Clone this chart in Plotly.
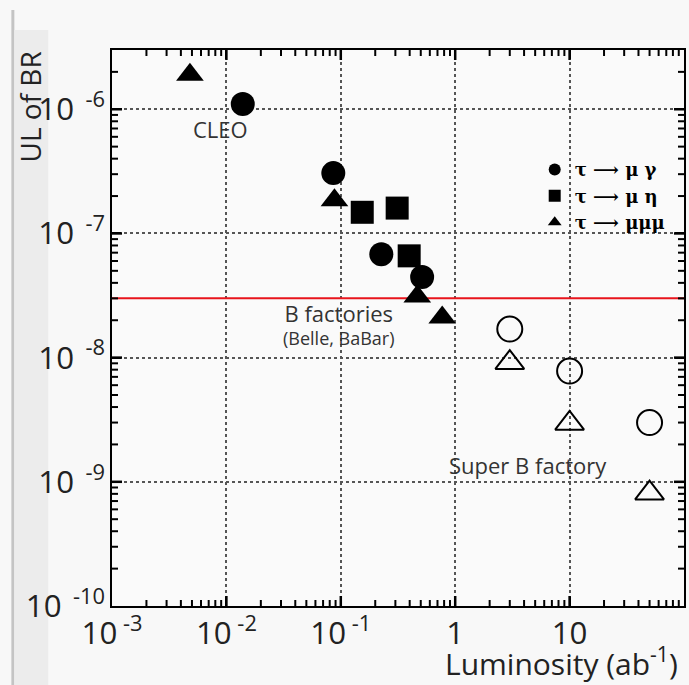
import plotly.graph_objects as go

# ---- data ----
mg_lum = [0.0139, 0.086, 0.226, 0.514]          # tau -> mu gamma, measured
mg_ul = [1.1e-6, 3.06e-7, 6.8e-8, 4.45e-8]
mg_lum_f = [3, 10, 50]                           # tau -> mu gamma, Super B expectation
mg_ul_f = [1.7e-8, 7.8e-9, 3.0e-9]

me_lum = [0.154, 0.311, 0.396]                   # tau -> mu eta, measured
me_ul = [1.48e-7, 1.6e-7, 6.6e-8]

mmm_lum = [0.0048, 0.088, 0.466, 0.77]           # tau -> mu mu mu, measured
mmm_ul = [1.9e-6, 1.85e-7, 3.1e-8, 2.1e-8]
mmm_lum_f = [3, 10, 50]
mmm_ul_f = [9.1e-9, 2.95e-9, 8.1e-10]

bfactory_line_lum = [1e-3, 1e2]
bfactory_line_ul = [3e-8, 3e-8]

x_exponents = [-3, -2, -1]
y_exponents = [-10, -9, -8, -7, -6]
minor_mantissas = [2, 3, 4, 5, 6, 7, 8, 9]

legend_names = ["τ ⟶ μ γ", "τ ⟶ μ η", "τ ⟶ μμμ"]

MINUS = "\u2212"
NB = "\u00a0"
x_alias = {f"10<sup>{MINUS}{-e}</sup>": f"10<sup>{NB}-{-e}</sup>" for e in x_exponents}
x_alias["100"] = ""
y_alias = {f"10<sup>{MINUS}{-e}</sup>": f"10<sup>{NB}{NB}-{-e}</sup>" for e in y_exponents}

FONT = "Open Sans"
X_RANGE = [-3, 2]
Y_RANGE = [-10, -5.5229]

x_major = [10.0 ** e for e in range(-2, 2)]
y_major = [10.0 ** e for e in range(-9, -5)]
x_minor = [m * 10.0 ** e for e in range(-3, 2) for m in minor_mantissas]
y_minor = [v for v in (m * 10.0 ** e for e in range(-10, -5) for m in minor_mantissas)
           if v < 10 ** Y_RANGE[1] * 0.999]

fig = go.Figure()

fig.add_trace(go.Scatter(x=bfactory_line_lum, y=bfactory_line_ul, mode="lines",
                         line=dict(color="#e8141c", width=2), showlegend=False, hoverinfo="skip"))

fig.add_trace(go.Scatter(x=mg_lum, y=mg_ul, mode="markers", name=legend_names[0],
                         marker=dict(symbol="circle", size=24, color="black", line=dict(width=0))))
fig.add_trace(go.Scatter(x=me_lum, y=me_ul, mode="markers", name=legend_names[1],
                         marker=dict(symbol="square", size=23, color="black", line=dict(width=0))))
fig.add_trace(go.Scatter(x=mmm_lum, y=mmm_ul, mode="markers", name=legend_names[2],
                         marker=dict(symbol="triangle-up", size=24, color="black", line=dict(width=0))))
fig.add_trace(go.Scatter(x=mg_lum_f, y=mg_ul_f, mode="markers", showlegend=False,
                         marker=dict(symbol="circle-open", size=25, color="black", line=dict(width=2))))
fig.add_trace(go.Scatter(x=mmm_lum_f, y=mmm_ul_f, mode="markers", showlegend=False,
                         marker=dict(symbol="triangle-up-open", size=25, color="black", line=dict(width=2))))

axis_common = dict(
    type="log",
    showline=True, linecolor="black", linewidth=2, mirror="ticks",
    ticks="inside", ticklen=9, tickwidth=2, tickcolor="black",
    showgrid=True, gridcolor="#555", gridwidth=1.5, griddash="dot",
    zeroline=False,
    tickfont=dict(family=FONT, size=25, color="#222"),
    tickmode="linear", tick0=0, dtick=1, exponentformat="power",
)
fig.update_layout(
    xaxis=dict(**axis_common, range=X_RANGE, labelalias=x_alias),
    yaxis=dict(**axis_common, range=Y_RANGE, labelalias=y_alias),
)

# inward tick marks on all four sides, drawn as pixel-length shapes at the tick values
shapes = []
for vals, length, width in ((x_minor, 6, 2), (x_major, 10, 2.5)):
    for v in vals:
        for anchor, sign in ((0, 1), (1, -1)):
            shapes.append(dict(type="line", xref="x", yref="paper", x0=v, x1=v,
                               ysizemode="pixel", yanchor=anchor, y0=0, y1=sign * length,
                               line=dict(color="black", width=width)))
for vals, length, width in ((y_minor, 6, 2), (y_major, 10, 2.5)):
    for v in vals:
        for anchor, sign in ((0, 1), (1, -1)):
            shapes.append(dict(type="line", xref="paper", yref="y", y0=v, y1=v,
                               xsizemode="pixel", xanchor=anchor, x0=0, x1=sign * length,
                               line=dict(color="black", width=width)))

# picture-frame decoration on the left
shapes += [
    dict(type="rect", xref="paper", yref="paper", x0=(11 - 112) / 574, x1=(14 - 112) / 574,
         y0=(606 - 685) / 556, y1=(606 - 10) / 556, fillcolor="#c4c4c4", line=dict(width=0), layer="below"),
    dict(type="rect", xref="paper", yref="paper", x0=(14 - 112) / 574, x1=(48 - 112) / 574,
         y0=(606 - 685) / 556, y1=(606 - 30) / 556, fillcolor="#ececec", line=dict(width=0), layer="below"),
]

ann_font = dict(family=FONT, size=22, color="#333")
annotations = [
    dict(text="CLEO", x=-2.05, y=-6.16, xref="x", yref="y", showarrow=False, font=ann_font),
    dict(text="<span style='font-size:22px'>B factories</span><br>(Belle, BaBar)",
         x=-1.012, y=-7.73, xref="x", yref="y", showarrow=False,
         font=dict(family=FONT, size=18, color="#333")),
    dict(text="Super B factory", x=0.636, y=-8.864, xref="x", yref="y", showarrow=False, font=ann_font),
    dict(text="UL of BR", x=-0.143, y=0.897, xref="paper", yref="paper", showarrow=False,
         textangle=-90, xanchor="center", yanchor="middle",
         font=dict(family=FONT, size=28, color="#222")),
    dict(text="Luminosity (ab<sup>-1</sup>)", x=0.993, y=-0.101, xref="paper", yref="paper",
         showarrow=False, xanchor="right", yanchor="middle",
         font=dict(family=FONT, size=30, color="#222")),
]

fig.update_layout(
    width=689, height=685,
    margin=dict(l=112, r=3, t=50, b=79),
    paper_bgcolor="#f8f8f8", plot_bgcolor="#fafafa",
    annotations=annotations, shapes=shapes,
    legend=dict(x=0.739, y=0.818, xanchor="left", yanchor="top", bgcolor="rgba(0,0,0,0)",
                itemsizing="constant", tracegroupgap=0,
                font=dict(family="DejaVu Serif", size=18, color="black", weight="bold")),
)

fig.write_html("out.html")
